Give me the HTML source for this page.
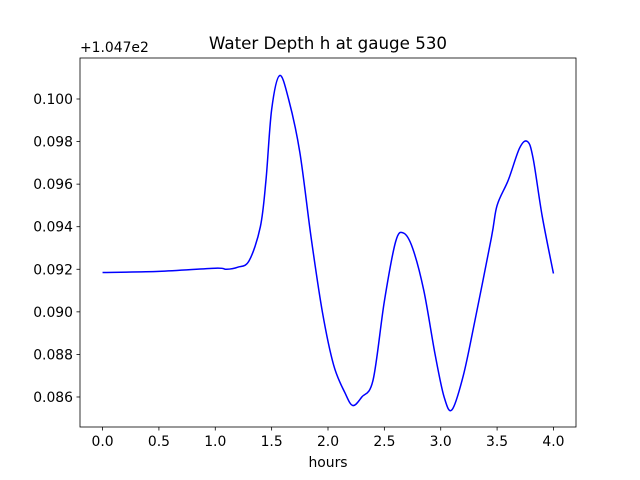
<!DOCTYPE html>
<html><head><meta charset="utf-8"><style>
body{margin:0;background:#fff;}
svg{display:block;font-family:"DejaVu Sans","Liberation Sans",sans-serif;}
</style></head><body>
<svg id="chart" width="640" height="480" viewBox="0 0 640 480" xmlns="http://www.w3.org/2000/svg">
<rect width="640" height="480" fill="#fff"/>
<text x="328" y="49" text-anchor="middle" font-size="16.7">Water Depth h at gauge 530</text>
<text x="80" y="52" font-size="13.9">+1.047e2</text>
<text x="328" y="467" text-anchor="middle" font-size="13.9">hours</text>
<g id="xticks"></g><g id="yticks"></g>
<path id="line" fill="none" stroke="#0000ff" stroke-width="1.5" stroke-linejoin="round"/>
<rect x="80" y="58" width="496" height="369" fill="none" stroke="#000" stroke-width="0.8"/>
</svg>
<script>
const hours=[0,0.5,1.0,1.1,1.2,1.3,1.4,1.45,1.5,1.57,1.65,1.75,1.85,1.95,2.05,2.15,2.22,2.3,2.4,2.5,2.6,2.67,2.75,2.85,2.95,3.03,3.1,3.2,3.3,3.45,3.5,3.6,3.7,3.77,3.82,3.9,4.0];
const depth=[0.09185,0.0919,0.09205,0.0920,0.0921,0.0924,0.0940,0.0962,0.0995,0.1011,0.1000,0.0975,0.0935,0.0900,0.0875,0.0862,0.0856,0.0860,0.0868,0.0905,0.0933,0.0937,0.0930,0.0910,0.0880,0.0860,0.0854,0.0870,0.0895,0.0935,0.0950,0.0962,0.0977,0.0980,0.0972,0.0945,0.0918];
const xTicks=[0,0.5,1.0,1.5,2.0,2.5,3.0,3.5,4.0];
const yTicks=[0.086,0.088,0.090,0.092,0.094,0.096,0.098,0.100];
const X=v=>80+(v+0.2)/4.4*496;
const Y=v=>99+(0.100-v)/0.002*42.57;
const ns="http://www.w3.org/2000/svg";
const xg=document.getElementById('xticks'),yg=document.getElementById('yticks');
xTicks.forEach(t=>{
 const l=document.createElementNS(ns,'line');
 
 
 l.setAttribute('x1',X(t));l.setAttribute('x2',X(t));l.setAttribute('y1',427);l.setAttribute('y2',430.5);l.setAttribute('stroke','#000');l.setAttribute('stroke-width','0.8');xg.appendChild(l);
 const s=document.createElementNS(ns,'text');
 
 
 s.setAttribute('x',X(t));s.setAttribute('y',446);s.setAttribute('text-anchor','middle');s.setAttribute('font-size','13.9');s.textContent=t.toFixed(1);xg.appendChild(s);
});
yTicks.forEach(t=>{
 const l=document.createElementNS(ns,'line');
 
 
 l.setAttribute('x1',76.5);l.setAttribute('x2',80);l.setAttribute('y1',Y(t));l.setAttribute('y2',Y(t));l.setAttribute('stroke','#000');l.setAttribute('stroke-width','0.8');yg.appendChild(l);
 const s=document.createElementNS(ns,'text');
 
 
 s.setAttribute('x',73);s.setAttribute('y',Y(t)+5);s.setAttribute('text-anchor','end');s.setAttribute('font-size','13.9');s.textContent=t.toFixed(3);yg.appendChild(s);
});
const P=hours.map((h,i)=>[X(h),Y(depth[i])]);
let d='M'+P[0][0]+','+P[0][1];
for(let i=0;i<P.length-1;i++){
 const p0=P[Math.max(0,i-1)],p1=P[i],p2=P[i+1],p3=P[Math.min(P.length-1,i+2)];
 const c1=[p1[0]+(p2[0]-p0[0])/6,p1[1]+(p2[1]-p0[1])/6];
 const c2=[p2[0]-(p3[0]-p1[0])/6,p2[1]-(p3[1]-p1[1])/6];
 d+=' C'+c1+' '+c2+' '+p2;
}
document.getElementById('line').setAttribute('d',d);
</script>
</body></html>
